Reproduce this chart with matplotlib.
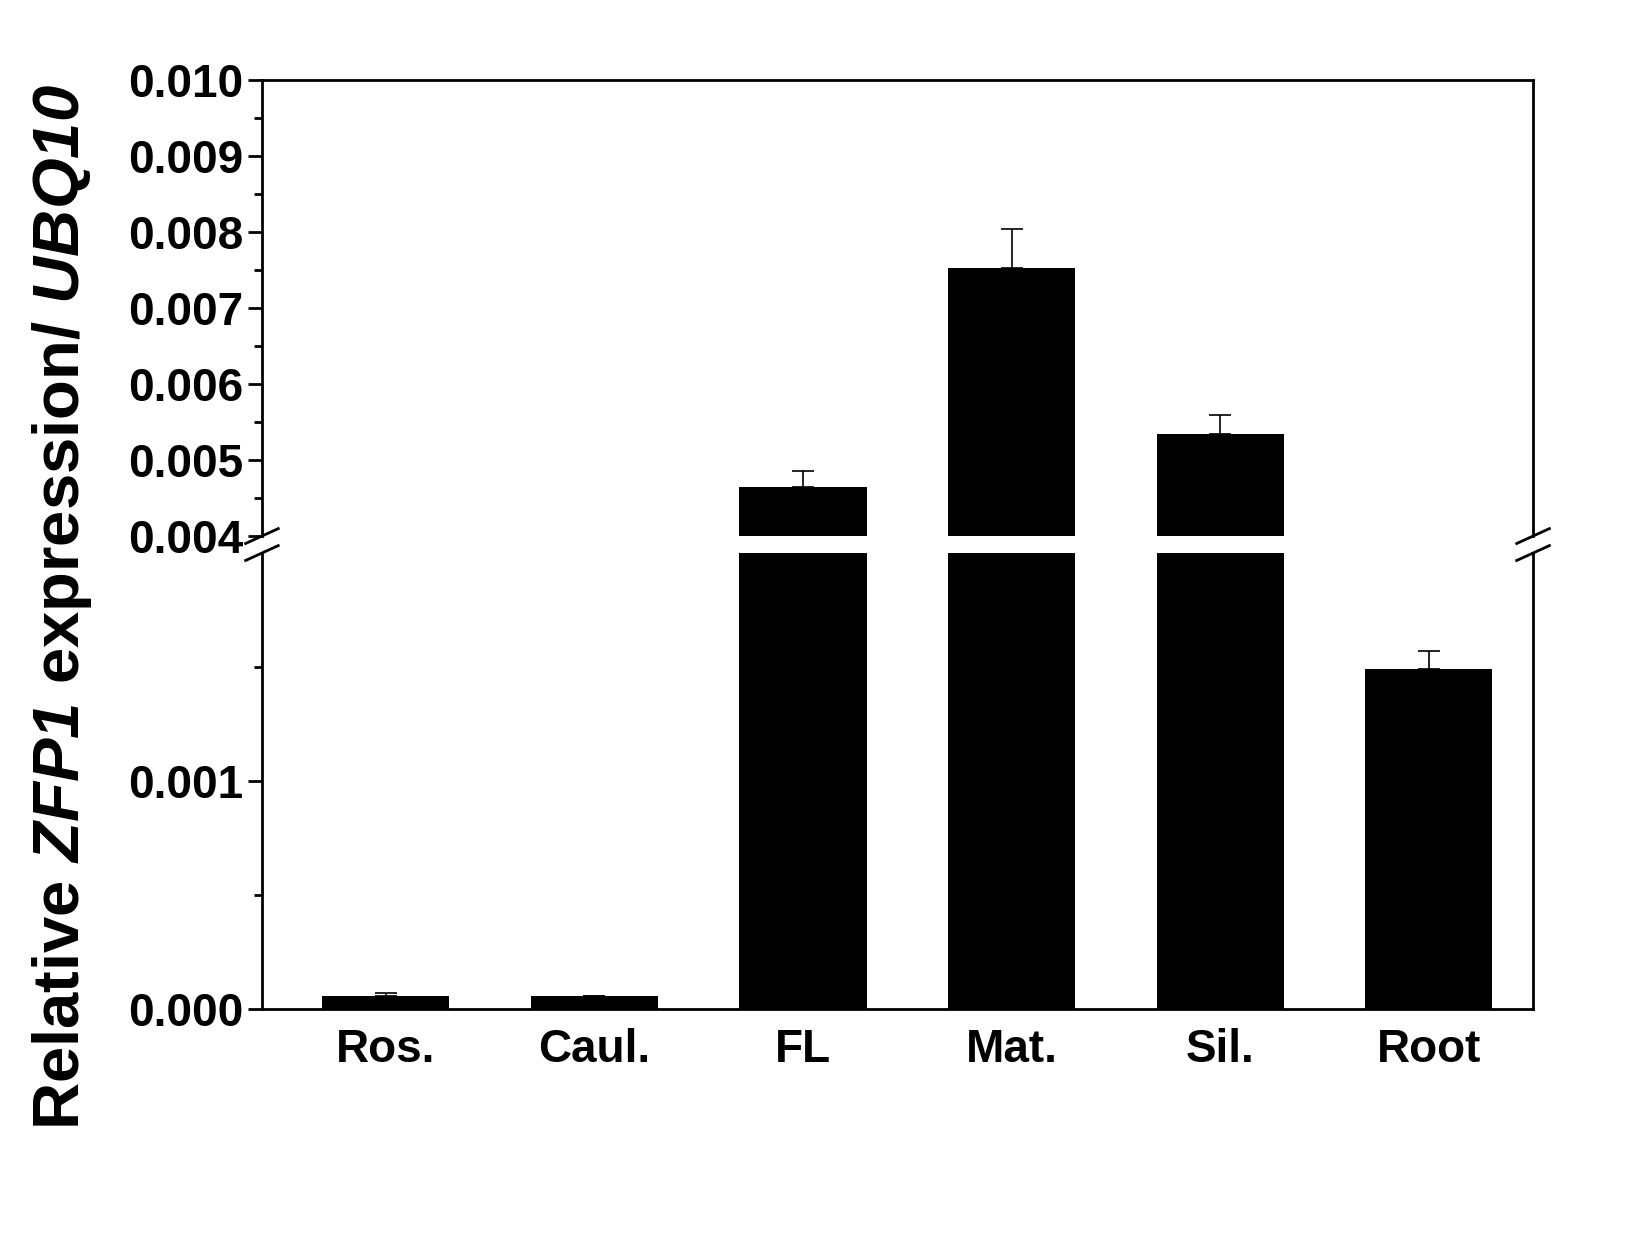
import numpy as np
import matplotlib.pyplot as plt

plt.rcParams['font.family'] = 'Liberation Sans'
plt.rcParams['font.weight'] = 'bold'
plt.rcParams['mathtext.fontset'] = 'custom'
plt.rcParams['mathtext.it'] = 'Liberation Sans:italic:bold'
plt.rcParams['mathtext.rm'] = 'Liberation Sans:italic:bold'

tissues = ["Ros.", "Caul.", "FL", "Mat.", "Sil.", "Root"]
values = [0.000057, 0.000055, 0.00465, 0.00752, 0.00534, 0.00149]
errors = [0.000013, 0.0, 0.00021, 0.00052, 0.00025, 0.00008]

x = np.arange(len(tissues))
fig = plt.figure(figsize=(16.33, 12.4), dpi=100)
ax_top = fig.add_axes([0.1604, 0.5677, 0.7784, 0.3678])
ax_bot = fig.add_axes([0.1604, 0.1863, 0.7784, 0.3677])

for ax in (ax_top, ax_bot):
    ax.bar(x, values, width=0.61, color='black')
    ax.errorbar(x, values, yerr=[np.zeros(len(x)), errors], fmt='none',
                ecolor='black', elinewidth=1.2, capsize=8, capthick=1.2)
    ax.set_xlim(-0.594, 5.5)
    for s in ax.spines.values():
        s.set_linewidth(2)
    ax.tick_params(axis='y', direction='out', length=10, width=2, labelsize=33)
    ax.tick_params(axis='y', which='minor', direction='out', length=6, width=2)

ax_top.set_ylim(0.004, 0.010)
ax_top.set_yticks(np.arange(0.004, 0.01001, 0.001))
ax_top.set_yticks(np.arange(0.0045, 0.01, 0.001), minor=True)
ax_top.set_yticklabels([f"{v:.3f}" for v in np.arange(0.004, 0.01001, 0.001)])
ax_top.spines['bottom'].set_visible(False)
ax_top.set_xticks([])

ax_bot.set_ylim(0, 0.002)
ax_bot.set_yticks([0, 0.001])
ax_bot.set_yticks([0.0005, 0.0015], minor=True)
ax_bot.set_yticklabels(["0.000", "0.001"])
ax_bot.spines['top'].set_visible(False)
ax_bot.set_xticks(x)
ax_bot.set_xticklabels(tissues, fontsize=33)
ax_bot.tick_params(axis='x', length=0, pad=14)

# break marks
for xf in (0.1604, 0.9388):
    for yf in (0.5677, 0.554):
        fig.add_artist(plt.Line2D([xf - 0.01, xf + 0.01], [yf - 0.006, yf + 0.006],
                                  color='black', lw=2))

fig.text(0.038, 0.51, r"Relative $ZFP1$ expression/ $UBQ10$",
         rotation=90, ha='center', va='center', fontsize=47, fontweight='bold')

fig.savefig("out.png", dpi=100)
